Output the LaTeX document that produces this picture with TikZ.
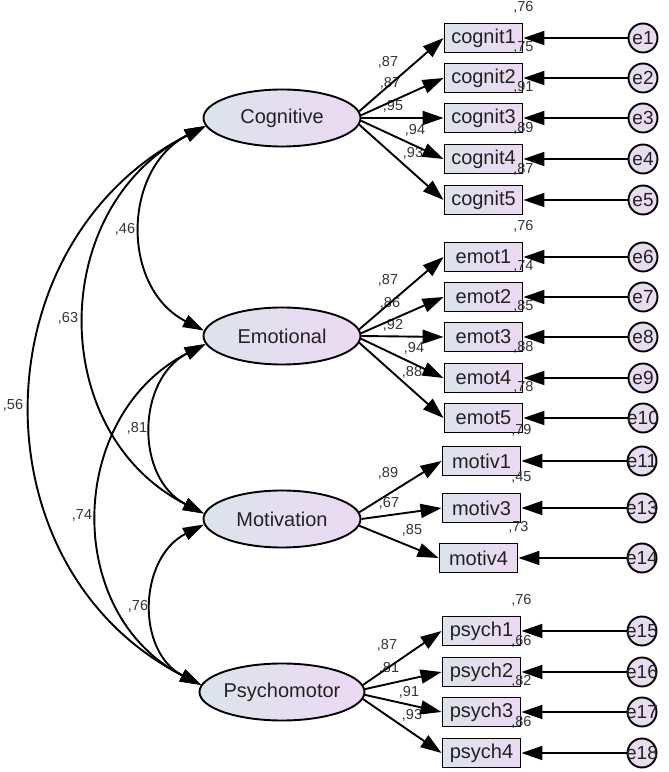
\documentclass[tikz,border=0pt]{standalone}
\usepackage{fontspec}
\setmainfont{Liberation Sans}
\usetikzlibrary{arrows.meta,shapes.geometric}
\definecolor{fillL}{HTML}{DCE3EC}
\definecolor{fillR}{HTML}{ECD9F2}
\definecolor{errfill}{HTML}{E8DCF0}
\definecolor{txt}{HTML}{222222}

\begin{document}
\begin{tikzpicture}[x=1pt, y=1pt,
    latent/.style={ellipse, draw, line width=1.9pt, left color=fillL, right color=fillR, minimum width=157pt, minimum height=57pt, inner sep=0pt, text=txt, font=\fontsize{20}{24}\selectfont},
    item/.style={rectangle, draw, line width=1.9pt, left color=fillL, right color=fillR, minimum width=78pt, minimum height=29pt, inner sep=0pt, text=txt, font=\fontsize{20}{24}\selectfont},
    err/.style={circle, draw, line width=1.9pt, fill=errfill, minimum size=29pt, inner sep=0pt, text=txt, font=\fontsize{19}{22}\selectfont},
    coef/.style={inner sep=0pt, text=black!80, font=\fontsize{14.5}{17}\selectfont},
    load/.style={-{Triangle[length=21pt,width=14pt]}, line width=1.9pt},
    cov/.style={{Triangle[length=21pt,width=13pt]}-{Triangle[length=21pt,width=13pt]}, line width=1.9pt, out=207, in=153, looseness=1.17}]
            \useasboundingbox (0,0) rectangle (669,772);

            % Draw the latent factors
            \node[latent] (cog) at (282,654) {Cognitive};
            \node[latent] (emo) at (282,436) {Emotional};
            \node[latent] (mot) at (282,253) {Motivation};
            \node[latent] (psy) at (282,80) {Psychomotor};

            % Draw the observed items
            \node[item] (cog1) at (483.5,734) {cognit1};
            \node[item] (cog2) at (483.5,694) {cognit2};
            \node[item] (cog3) at (483.5,654) {cognit3};
            \node[item] (cog4) at (483.5,613) {cognit4};
            \node[item] (cog5) at (483.5,572) {cognit5};
            \node[item] (emo1) at (483.5,515) {emot1};
            \node[item] (emo2) at (483.5,475) {emot2};
            \node[item] (emo3) at (483.5,435) {emot3};
            \node[item] (emo4) at (483.5,394) {emot4};
            \node[item] (emo5) at (483.5,354) {emot5};
            \node[item] (mot1) at (481.5,311) {motiv1};
            \node[item] (mot3) at (481.5,264) {motiv3};
            \node[item] (mot4) at (478.5,214) {motiv4};
            \node[item] (psy1) at (481.5,141) {psych1};
            \node[item] (psy2) at (481.5,100) {psych2};
            \node[item] (psy3) at (481.5,60) {psych3};
            \node[item] (psy4) at (481.5,19) {psych4};

            % Draw the error terms
            \node[err] (e1) at (643,734) {\makebox[0pt]{e1}};
            \node[err] (e2) at (643,694) {\makebox[0pt]{e2}};
            \node[err] (e3) at (643,654) {\makebox[0pt]{e3}};
            \node[err] (e4) at (643,613) {\makebox[0pt]{e4}};
            \node[err] (e5) at (643,572) {\makebox[0pt]{e5}};
            \node[err] (e6) at (643,515) {\makebox[0pt]{e6}};
            \node[err] (e7) at (643,475) {\makebox[0pt]{e7}};
            \node[err] (e8) at (643,435) {\makebox[0pt]{e8}};
            \node[err] (e9) at (643,394) {\makebox[0pt]{e9}};
            \node[err] (e10) at (643,354) {\makebox[0pt]{e10}};
            \node[err] (e11) at (642,311) {\makebox[0pt]{e11}};
            \node[err] (e13) at (642,264) {\makebox[0pt]{e13}};
            \node[err] (e14) at (642,214) {\makebox[0pt]{e14}};
            \node[err] (e15) at (642,141) {\makebox[0pt]{e15}};
            \node[err] (e16) at (642,100) {\makebox[0pt]{e16}};
            \node[err] (e17) at (642,60) {\makebox[0pt]{e17}};
            \node[err] (e18) at (642,19) {\makebox[0pt]{e18}};

            % Squared multiple correlations
            \node[coef] (r1) at ([yshift=15pt]cog1.north east) {,76};
            \node[coef] (r2) at ([yshift=15pt]cog2.north east) {,75};
            \node[coef] (r3) at ([yshift=15pt]cog3.north east) {,91};
            \node[coef] (r4) at ([yshift=15pt]cog4.north east) {,89};
            \node[coef] (r5) at ([yshift=15pt]cog5.north east) {,87};
            \node[coef] (r6) at ([yshift=15pt]emo1.north east) {,76};
            \node[coef] (r7) at ([yshift=15pt]emo2.north east) {,74};
            \node[coef] (r8) at ([yshift=15pt]emo3.north east) {,85};
            \node[coef] (r9) at ([yshift=15pt]emo4.north east) {,88};
            \node[coef] (r10) at ([yshift=15pt]emo5.north east) {,78};
            \node[coef] (r11) at ([yshift=15pt]mot1.north east) {,79};
            \node[coef] (r13) at ([yshift=15pt]mot3.north east) {,45};
            \node[coef] (r14) at ([yshift=15pt]mot4.north east) {,73};
            \node[coef] (r15) at ([yshift=15pt]psy1.north east) {,76};
            \node[coef] (r16) at ([yshift=15pt]psy2.north east) {,66};
            \node[coef] (r17) at ([yshift=15pt]psy3.north east) {,82};
            \node[coef] (r18) at ([yshift=15pt]psy4.north east) {,86};

            % Labels for loadings
            \node[coef] (l1) at (388,710) {,87};
            \node[coef] (l2) at (390,689) {,87};
            \node[coef] (l3) at (393,666) {,95};
            \node[coef] (l4) at (415,642) {,94};
            \node[coef] (l5) at (413,619) {,93};
            \node[coef] (l6) at (388,492) {,87};
            \node[coef] (l7) at (390,469) {,86};
            \node[coef] (l8) at (393,447) {,92};
            \node[coef] (l9) at (414,424) {,94};
            \node[coef] (l10) at (412,400) {,88};
            \node[coef] (l11) at (388,299) {,89};
            \node[coef] (l13) at (389,269) {,67};
            \node[coef] (l14) at (412,242) {,85};
            \node[coef] (l15) at (387,127) {,87};
            \node[coef] (l16) at (389,104) {,81};
            \node[coef] (l17) at (409,80) {,91};
            \node[coef] (l18) at (412,57) {,93};

            % Labels for correlations
            \node[coef] (c46) at (125,543) {,46};
            \node[coef] (c63) at (68,454) {,63};
            \node[coef] (c56) at (13,367) {,56};
            \node[coef] (c81) at (137,344) {,81};
            \node[coef] (c74) at (82,257) {,74};
            \node[coef] (c76) at (138,166) {,76};

            % Factor loadings
            \draw[load] (cog.5) -- (cog1.west);
            \draw[load] (cog.2) -- (cog2.west);
            \draw[load] (cog.0) -- (cog3.west);
            \draw[load] (cog.-2) -- (cog4.west);
            \draw[load] (cog.-5) -- (cog5.west);
            \draw[load] (emo.5) -- (emo1.west);
            \draw[load] (emo.2) -- (emo2.west);
            \draw[load] (emo.0) -- (emo3.west);
            \draw[load] (emo.-2) -- (emo4.west);
            \draw[load] (emo.-5) -- (emo5.west);
            \draw[load] (mot.5) -- (mot1.west);
            \draw[load] (mot.0) -- (mot3.west);
            \draw[load] (mot.-5) -- (mot4.west);
            \draw[load] (psy.5) -- (psy1.west);
            \draw[load] (psy.2) -- (psy2.west);
            \draw[load] (psy.-2) -- (psy3.west);
            \draw[load] (psy.-5) -- (psy4.west);

            % Error paths
            \draw[load] (e1) -- (cog1);
            \draw[load] (e2) -- (cog2);
            \draw[load] (e3) -- (cog3);
            \draw[load] (e4) -- (cog4);
            \draw[load] (e5) -- (cog5);
            \draw[load] (e6) -- (emo1);
            \draw[load] (e7) -- (emo2);
            \draw[load] (e8) -- (emo3);
            \draw[load] (e9) -- (emo4);
            \draw[load] (e10) -- (emo5);
            \draw[load] (e11) -- (mot1);
            \draw[load] (e13) -- (mot3);
            \draw[load] (e14) -- (mot4);
            \draw[load] (e15) -- (psy1);
            \draw[load] (e16) -- (psy2);
            \draw[load] (e17) -- (psy3);
            \draw[load] (e18) -- (psy4);

            % Correlations between factors
            \draw[cov] (cog.186) to (emo.176);
            \draw[cov] (cog.186) to (mot.176);
            \draw[cov] (cog.186) to (psy.175);
            \draw[cov] (emo.186) to (mot.176);
            \draw[cov] (emo.186) to (psy.175);
            \draw[cov] (mot.184) to (psy.175);

        \end{tikzpicture}
\end{document}
